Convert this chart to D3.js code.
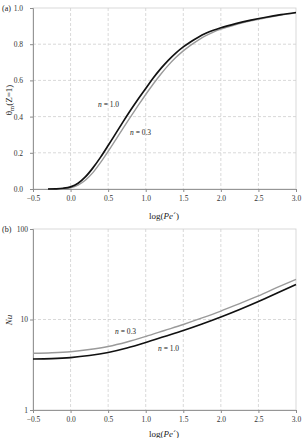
<!DOCTYPE html>
<html>
<head>
<meta charset="utf-8">
<script src="https://cdn.jsdelivr.net/npm/d3@7"></script>
<style>
body { margin: 0; background: #fff; }
svg { display: block; }
</style>
</head>
<body>
<svg width="303" height="438"></svg>
<script>
// (a) outlet mixing-cup temperature vs log(Pe')
const thetaLogPe = [-0.3, -0.2, -0.1, 0.0, 0.1, 0.2, 0.3, 0.4, 0.5, 0.6, 0.7, 0.8, 0.9, 1.0, 1.1, 1.2, 1.3, 1.4, 1.5, 1.6, 1.7, 1.8, 1.9, 2.0, 2.2, 2.4, 2.6, 2.8, 3.0];
const thetaN10 = [0.000, 0.001, 0.004, 0.012, 0.032, 0.068, 0.118, 0.176, 0.240, 0.306, 0.372, 0.436, 0.497, 0.555, 0.613, 0.665, 0.711, 0.751, 0.785, 0.814, 0.839, 0.860, 0.877, 0.891, 0.914, 0.933, 0.949, 0.963, 0.975];
const thetaN03 = [0.000, 0.000, 0.002, 0.007, 0.022, 0.050, 0.092, 0.147, 0.208, 0.272, 0.337, 0.400, 0.462, 0.522, 0.580, 0.634, 0.683, 0.726, 0.763, 0.795, 0.823, 0.847, 0.867, 0.883, 0.908, 0.929, 0.946, 0.961, 0.973];

// (b) Nusselt number vs log(Pe')
const nuLogPe = [-0.5, -0.25, 0.0, 0.25, 0.5, 0.75, 1.0, 1.25, 1.5, 1.75, 2.0, 2.25, 2.5, 2.75, 3.0];
const nuN10 = [3.66, 3.70, 3.80, 4.00, 4.32, 4.84, 5.57, 6.49, 7.56, 8.92, 10.66, 12.9, 15.8, 19.6, 24.4];
const nuN03 = [4.23, 4.29, 4.41, 4.66, 5.03, 5.64, 6.49, 7.56, 8.81, 10.4, 12.4, 15.0, 18.2, 22.6, 27.8];

const xTicks = [-0.5, 0.0, 0.5, 1.0, 1.5, 2.0, 2.5, 3.0];
const thetaTicks = [0.0, 0.2, 0.4, 0.6, 0.8, 1.0];
const nuTicks = [1, 10, 100];

const svg = d3.select("svg");
const fontFam = "'Liberation Serif', 'DejaVu Serif', serif";
const left = 33, right = 296;

function zip(xs, ys) {
    return xs.map(function(x, i) { return [x, ys[i]]; });
}

function drawPanel(opt) {
    const xScale = d3.scaleLinear().domain([-0.5, 3.0]).range([left, right]);
    const yScale = opt.yScale;
    const top = yScale.range()[1], bottom = yScale.range()[0];
    const g = svg.append("g");

    // grid
    g.selectAll(".vgrid")
        .data(xTicks.slice(1, -1))
        .enter().append("line")
        .attr("x1", d => xScale(d)).attr("x2", d => xScale(d))
        .attr("y1", top).attr("y2", bottom)
        .attr("stroke", "#c8c8c8").attr("stroke-width", 0.7)
        .attr("stroke-dasharray", "3,2");
    g.selectAll(".hgrid")
        .data(opt.yTicks.slice(1, -1))
        .enter().append("line")
        .attr("x1", left).attr("x2", right)
        .attr("y1", d => yScale(d)).attr("y2", d => yScale(d))
        .attr("stroke", "#c8c8c8").attr("stroke-width", 0.7)
        .attr("stroke-dasharray", "3,2");

    // plot area border
    g.append("rect")
        .attr("x", left).attr("y", top)
        .attr("width", right - left).attr("height", bottom - top)
        .attr("fill", "none").attr("stroke", "#cfcfcf").attr("stroke-width", 0.8);

    // axes
    const xAxis = g.append("g")
        .attr("transform", "translate(0," + bottom + ")")
        .call(d3.axisBottom(xScale).tickValues(xTicks).tickFormat(d3.format(".1f")).tickSize(3).tickPadding(4));
    const yAxis = g.append("g")
        .attr("transform", "translate(" + left + ",0)")
        .call(d3.axisLeft(yScale).tickValues(opt.yTicks).tickFormat(opt.yFormat).tickSize(3).tickPadding(opt.yPad));
    [xAxis, yAxis].forEach(function(a) {
        a.select(".domain").attr("stroke", "#8c8c8c").attr("stroke-width", 0.9);
        a.selectAll(".tick line").attr("stroke", "#8c8c8c");
        a.selectAll("text")
            .style("font-family", fontFam)
            .style("font-size", "7.5px")
            .attr("fill", "#333");
    });

    const line = d3.line()
        .x(d => xScale(d[0]))
        .y(d => yScale(d[1]))
        .curve(d3.curveMonotoneX);

    g.append("path")
        .datum(zip(opt.xs, opt.gray))
        .attr("d", line)
        .attr("fill", "none").attr("stroke", "#9a9a9a").attr("stroke-width", 1.4);
    g.append("path")
        .datum(zip(opt.xs, opt.black))
        .attr("d", line)
        .attr("fill", "none").attr("stroke", "#111").attr("stroke-width", 1.7);

    // series labels
    opt.labels.forEach(function(l) {
        const t = g.append("text")
            .attr("x", l.x).attr("y", l.y)
            .style("font-family", fontFam).style("font-size", "7.5px")
            .attr("fill", "#222");
        t.append("tspan").style("font-style", "italic").text("n");
        t.append("tspan").text(" = " + l.n);
    });

    // panel tag
    g.append("text")
        .attr("x", 2).attr("y", top + 3)
        .style("font-family", fontFam).style("font-size", "8px")
        .attr("fill", "#222")
        .text(opt.tag);

    // x title
    const xt = g.append("text")
        .attr("x", 164).attr("y", opt.xTitleY)
        .attr("text-anchor", "middle")
        .style("font-family", fontFam).style("font-size", "9px")
        .attr("fill", "#222");
    xt.append("tspan").text("log(");
    xt.append("tspan").style("font-style", "italic").text("Pe");
    xt.append("tspan").text("´)");

    return g;
}

// (a)
const ga = drawPanel({
    yScale: d3.scaleLinear().domain([0, 1]).range([189, 8]),
    yTicks: thetaTicks,
    yFormat: d3.format(".1f"),
    yPad: 7,
    xs: thetaLogPe, black: thetaN10, gray: thetaN03,
    labels: [{x: 98, y: 107, n: "1.0"}, {x: 130, y: 135, n: "0.3"}],
    tag: "(a)",
    xTitleY: 219
});
const ya = ga.append("text")
    .attr("transform", "translate(12,100)rotate(-90)")
    .attr("text-anchor", "middle")
    .style("font-family", fontFam).style("font-size", "9px")
    .attr("fill", "#222");
ya.append("tspan").text("θ");
ya.append("tspan").attr("dy", 2).style("font-size", "6.5px").text("m");
ya.append("tspan").attr("dy", -2).text("(Z=1)");

// (b)
const gb = drawPanel({
    yScale: d3.scaleLog().domain([1, 100]).range([410, 229]),
    yTicks: nuTicks,
    yFormat: d3.format("d"),
    yPad: 2,
    xs: nuLogPe, black: nuN10, gray: nuN03,
    labels: [{x: 115, y: 334, n: "0.3"}, {x: 158, y: 351, n: "1.0"}],
    tag: "(b)",
    xTitleY: 437
});
gb.append("text")
    .attr("transform", "translate(12,320)rotate(-90)")
    .attr("text-anchor", "middle")
    .style("font-family", fontFam).style("font-size", "9px")
    .style("font-style", "italic")
    .attr("fill", "#222")
    .text("Nu");
</script>
</body>
</html>
